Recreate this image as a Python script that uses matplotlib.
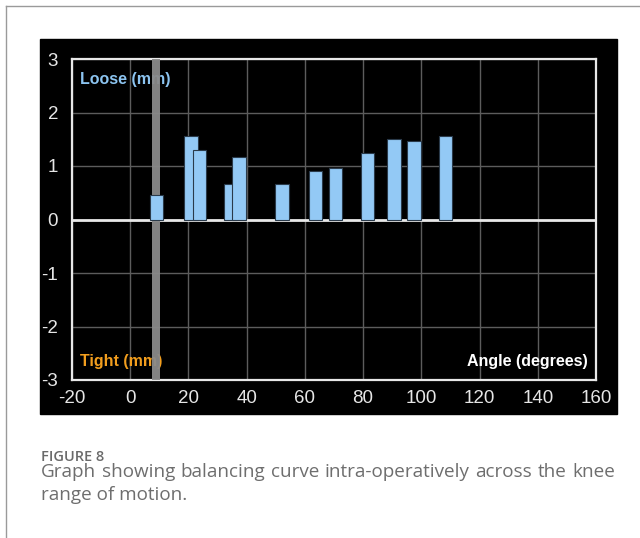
import matplotlib
matplotlib.use("Agg")
import matplotlib.pyplot as plt
from matplotlib.patches import Rectangle
from matplotlib.lines import Line2D

plt.rcParams['axes.unicode_minus'] = False

# bar positions (degrees) and gap values (mm)
angles = [9, 20.9, 23.8, 34.4, 37.4, 52.1, 63.6, 70.6, 81.5, 90.6, 97.5, 108.2]
gaps = [0.45, 1.56, 1.30, 0.67, 1.16, 0.67, 0.90, 0.97, 1.25, 1.51, 1.46, 1.56]
bar_width = 4.6
band = (7.6, 10.3)  # grey marker band
x_ticks = [-20, 0, 20, 40, 60, 80, 100, 120, 140, 160]
y_ticks = [-3, -2, -1, 0, 1, 2, 3]

caption_title = "FIGURE 8"
caption_line1 = "Graph showing balancing curve intra-operatively across the knee"
caption_line2 = "range of motion."

W, H = 640, 538
fig = plt.figure(figsize=(W / 100, H / 100), dpi=100)
fig.patch.set_facecolor("white")

# page frame (top and left edges)
fig.add_artist(Line2D([6 / W, 1], [1 - 5.5 / H, 1 - 5.5 / H], color="#9a9a9a", lw=1))
fig.add_artist(Line2D([6 / W, 6 / W], [0, 1 - 5.5 / H], color="#9a9a9a", lw=1))

# black panel behind the chart
fig.add_artist(Rectangle((40 / W, 1 - 414 / H), 577 / W, 375 / H,
                         transform=fig.transFigure, color="black", zorder=0))

ax = fig.add_axes([72 / W, 1 - 380 / H, 524 / W, 321 / H])
ax.set_facecolor("black")
ax.set_xlim(-20, 160)
ax.set_ylim(-3, 3)
ax.set_xticks(x_ticks)
ax.set_yticks(y_ticks)
ax.tick_params(length=0, colors="#e6e6e6", labelsize=13.5)
ax.tick_params(axis="y", pad=10)
ax.tick_params(axis="x", pad=7)
for lab in ax.get_xticklabels() + ax.get_yticklabels():
    lab.set_fontfamily("Liberation Sans")
for sp in ax.spines.values():
    sp.set_color("#e8e8e8")
    sp.set_linewidth(1.6)
ax.grid(True, color="#5c5c5c", lw=1)
ax.set_axisbelow(True)
ax.axhline(0, color="#e8e8e8", lw=2, zorder=2)

ax.text(-17.3, 2.61, "Loose (mm)", color="#8cc4f0", fontsize=11.5, fontweight="bold",
        family="Liberation Sans", va="center", ha="left", zorder=2)
ax.text(-17.3, -2.645, "Tight (mm)", color="#f29e1e", fontsize=11.5, fontweight="bold",
        family="Liberation Sans", va="center", ha="left", zorder=2)
ax.text(157, -2.645, "Angle (degrees)", color="white", fontsize=11.5, fontweight="bold",
        family="Liberation Sans", va="center", ha="right", zorder=2)

ax.add_patch(Rectangle((band[0], -3), band[1] - band[0], 6, facecolor="#8a8a8a",
                       edgecolor="none", alpha=0.95, zorder=3))
ax.bar(angles, gaps, width=bar_width, color="#93c9f5", edgecolor="#2a3a4a",
       linewidth=0.8, zorder=5)

# caption
fig.text(41 / W, 1 - 461 / H, caption_title, color="#6a6a6a", fontsize=10.5,
         family="Open Sans", fontweight="semibold", va="baseline")

# justified first line
renderer = fig.canvas.get_renderer()
words = caption_line1.split()
x0, x1 = 41, 615
items = []
total = 0
for w in words:
    t = fig.text(0, 1 - 477 / H, w, color="#6e6e6e", fontsize=13.6,
                 family="Open Sans", va="baseline")
    wd = t.get_window_extent(renderer).width
    items.append((t, wd))
    total += wd
gap = (x1 - x0 - total) / (len(words) - 1)
x = x0
for t, wd in items:
    t.set_x(x / W)
    x += wd + gap
fig.text(41 / W, 1 - 500 / H, caption_line2, color="#6e6e6e", fontsize=13.6,
         family="Open Sans", va="baseline")

fig.savefig("out.png", dpi=100)
